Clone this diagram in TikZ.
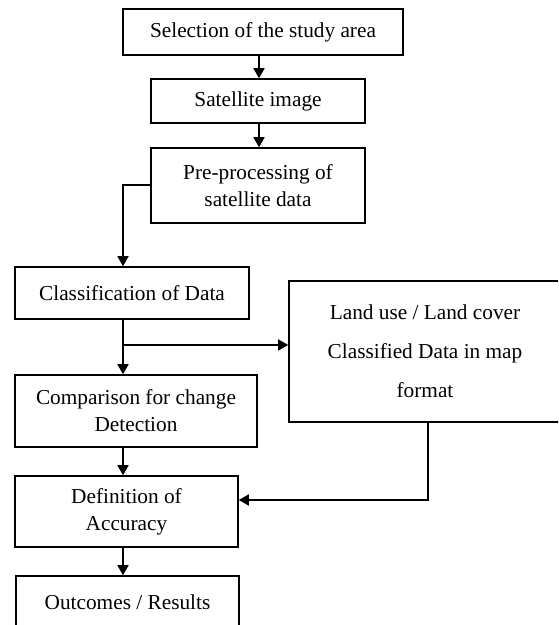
\documentclass[tikz,border=0pt]{standalone}
\usepackage{fontspec}
\setmainfont{Liberation Serif}
\usepackage{tikz}
\usetikzlibrary{calc, positioning, arrows.meta}

\begin{document}
\begin{tikzpicture}[x=1pt, y=-1pt,
  box/.style={draw=black, line width=1.6pt, fill=white, align=center,
              inner sep=0pt, font=\fontsize{21.3}{27}\selectfont},
  flow/.style={-{Triangle[length=10pt, width=11pt]}, line width=1.6pt},
]
\useasboundingbox (0,0) rectangle (558,625);
\clip (0,0) rectangle (558,625);

\node[box, minimum width=280pt, minimum height=46pt] (sel) at (263,32) {Selection of the study area};
\node[box, minimum width=214pt, minimum height=44pt] (sat) at (258,101) {Satellite image};
\node[box, minimum width=214pt, minimum height=75pt] (pre) at (258,185.5) {Pre-processing of\\satellite data};
\node[box, minimum width=234pt, minimum height=52pt] (cls) at (132,293) {Classification of Data};
\node[box, minimum width=272pt, minimum height=141pt, font=\fontsize{21.3}{39}\selectfont] (lulc) at (425,351.5) {Land use / Land cover\\Classified Data in map\\format};
\node[box, minimum width=242pt, minimum height=72pt] (cmp) at (136,411) {Comparison for change\\Detection};
\node[box, minimum width=223pt, minimum height=71pt] (def) at (126.5,511.5) {Definition of\\Accuracy};
\node[box, minimum width=223pt, minimum height=52pt] (out) at (127.5,602) {Outcomes / Results};

\coordinate (k1) at (123,185);
\coordinate (k2) at (123,345);
\coordinate (k3) at (428,500);

\draw[flow] (sel.south -| 259,0) -- (sat.north -| 259,0);
\draw[flow] (sat.south -| 259,0) -- (pre.north -| 259,0);
\draw[flow] (pre.west |- k1) -- (k1) -- (k1 |- cls.north);
\draw[flow] (k1 |- cls.south) -- (k1 |- cmp.north);
\draw[flow] (k2) -- (k2 -| lulc.west);
\draw[flow] (k1 |- cmp.south) -- (k1 |- def.north);
\draw[flow] (k1 |- def.south) -- (k1 |- out.north);
\draw[flow] (k3 |- lulc.south) -- (k3) -- (k3 -| def.east);
\end{tikzpicture}
\end{document}
